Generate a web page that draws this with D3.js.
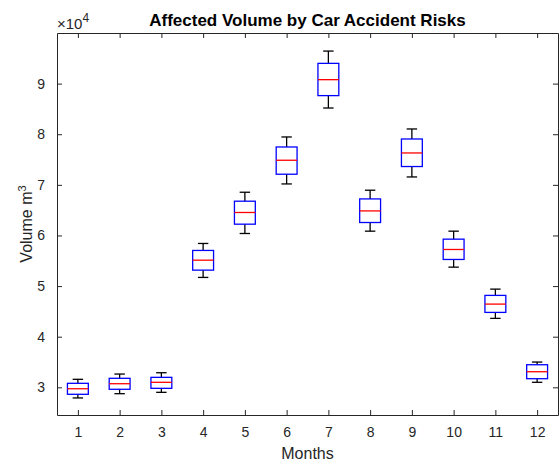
<!DOCTYPE html>
<html>
<head>
<meta charset="utf-8">
<script src="https://cdn.jsdelivr.net/npm/d3@7"></script>
<style>
  body { margin: 0; background: #fff; }
  svg { display: block; font-family: "Liberation Sans", Arial, sans-serif; }
</style>
</head>
<body>
<div id="chart"></div>
<script>
// box plot stats per month (volume, m^3)
const months = [1, 2, 3, 4, 5, 6, 7, 8, 9, 10, 11, 12];
const whiskerLow = [27900, 28740, 29010, 51710, 60390, 70180, 85180, 60850, 71560, 53740, 43620, 30990];
const q1 = [28620, 29610, 29800, 53150, 62230, 72100, 87630, 62560, 73620, 55260, 44800, 31700];
const medians = [29720, 30710, 30990, 55120, 64540, 74860, 90780, 64850, 76300, 57230, 46440, 33080];
const q3 = [30790, 31780, 31970, 57040, 66770, 77480, 94000, 67220, 79060, 59270, 48160, 34460];
const whiskerHigh = [31580, 32620, 32880, 58420, 68540, 79460, 96430, 68940, 81040, 60850, 49400, 34990];
const yTicks = [30000, 40000, 50000, 60000, 70000, 80000, 90000];

const width = 560,
    height = 461,
    margin = {top: 33, right: 2, bottom: 46, left: 57};
const axisColor = '#262626';

const svg = d3.select('#chart')
    .append('svg')
    .attr('width', width)
    .attr('height', height);

const x = d3.scaleLinear()
    .domain([0.5, 12.5])
    .range([margin.left, width - margin.right]);

const y = d3.scaleLinear()
    .domain([24530, 100000])
    .range([height - margin.bottom, margin.top]);

const boxes = months.map(function(m, i) {
    return {month: m, lo: whiskerLow[i], q1: q1[i], med: medians[i], q3: q3[i], hi: whiskerHigh[i]};
});

// axes, ticks pointing inward on all four sides
const tickLen = 5;
const gx = svg.append('g')
    .attr('transform', 'translate(0,' + (height - margin.bottom) + ')')
    .call(d3.axisBottom(x).tickValues(months).tickSizeInner(-tickLen).tickSizeOuter(0).tickPadding(12));
const gxTop = svg.append('g')
    .attr('transform', 'translate(0,' + margin.top + ')')
    .call(d3.axisTop(x).tickValues(months).tickSizeInner(-tickLen).tickSizeOuter(0).tickFormat(''));
const gy = svg.append('g')
    .attr('transform', 'translate(' + margin.left + ',0)')
    .call(d3.axisLeft(y).tickValues(yTicks).tickSizeInner(-tickLen).tickSizeOuter(0).tickPadding(12)
        .tickFormat(function(d) { return d / 1e4; }));
const gyRight = svg.append('g')
    .attr('transform', 'translate(' + (width - margin.right) + ',0)')
    .call(d3.axisRight(y).tickValues(yTicks).tickSizeInner(-tickLen).tickSizeOuter(0).tickFormat(''));

[gx, gxTop, gy, gyRight].forEach(function(g) {
    g.select('.domain').attr('stroke', axisColor).attr('stroke-width', 1);
    g.selectAll('.tick line').attr('stroke', axisColor);
    g.selectAll('.tick text').attr('fill', axisColor).style('font-size', '14px');
});

// boxes
const bw = x(1.25) - x(1);
const cw = x(1.125) - x(1);
const g = svg.append('g');

boxes.forEach(function(d) {
    const cx = x(d.month);
    // whiskers
    g.append('line').attr('x1', cx).attr('x2', cx).attr('y1', y(d.q3)).attr('y2', y(d.hi))
        .attr('stroke', '#000').attr('stroke-width', 1.3);
    g.append('line').attr('x1', cx).attr('x2', cx).attr('y1', y(d.q1)).attr('y2', y(d.lo))
        .attr('stroke', '#000').attr('stroke-width', 1.3);
    g.append('line').attr('x1', cx - cw).attr('x2', cx + cw).attr('y1', y(d.hi)).attr('y2', y(d.hi))
        .attr('stroke', '#000').attr('stroke-width', 1.3);
    g.append('line').attr('x1', cx - cw).attr('x2', cx + cw).attr('y1', y(d.lo)).attr('y2', y(d.lo))
        .attr('stroke', '#000').attr('stroke-width', 1.3);
    // box
    g.append('rect')
        .attr('x', cx - bw)
        .attr('y', y(d.q3))
        .attr('width', bw * 2)
        .attr('height', y(d.q1) - y(d.q3))
        .attr('fill', 'none')
        .attr('stroke', '#0000ff')
        .attr('stroke-width', 1.3);
    // median
    g.append('line').attr('x1', cx - bw).attr('x2', cx + bw).attr('y1', y(d.med)).attr('y2', y(d.med))
        .attr('stroke', '#ff0000').attr('stroke-width', 1.3);
});

// title and labels
svg.append('text')
    .attr('x', (margin.left + width - margin.right) / 2)
    .attr('y', 26)
    .attr('text-anchor', 'middle')
    .style('font-size', '17px')
    .style('font-weight', 'bold')
    .attr('fill', '#000')
    .text('Affected Volume by Car Accident Risks');

svg.append('text')
    .attr('x', (margin.left + width - margin.right) / 2)
    .attr('y', 459)
    .attr('text-anchor', 'middle')
    .style('font-size', '16px')
    .attr('fill', axisColor)
    .text('Months');

const yl = svg.append('text')
    .attr('transform', 'translate(32,' + ((margin.top + height - margin.bottom) / 2) + ') rotate(-90)')
    .attr('text-anchor', 'middle')
    .style('font-size', '16px')
    .attr('fill', axisColor);
yl.append('tspan').text('Volume m');
yl.append('tspan').attr('dy', -6).style('font-size', '11px').text('3');

const exp = svg.append('text')
    .attr('x', margin.left)
    .attr('y', 29)
    .style('font-size', '15px')
    .attr('fill', axisColor);
exp.append('tspan').text('\u00d710');
exp.append('tspan').attr('dy', -7).style('font-size', '12px').text('4');
</script>
</body>
</html>
